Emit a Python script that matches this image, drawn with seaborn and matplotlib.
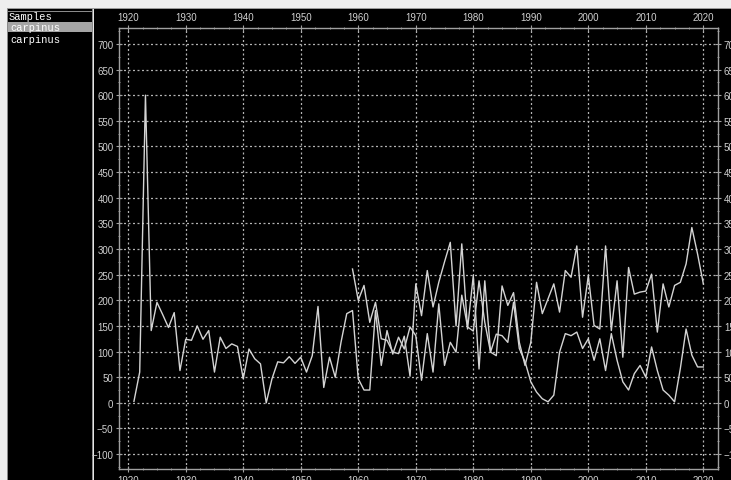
import numpy as np
import pandas as pd
import matplotlib
matplotlib.use("Agg")
import matplotlib.pyplot as plt
from matplotlib.patches import Rectangle
from matplotlib.ticker import MultipleLocator
import seaborn as sns

# ---- data ----
years_a = list(range(1921, 2021))
ring_a = [3, 60, 600, 141, 196, 172, 147, 176, 63, 124,
          122, 150, 124, 141, 60, 128, 106, 115, 110, 47,
          105, 86, 76, 0, 47, 80, 78, 90, 77, 89,
          60, 92, 188, 30, 89, 50, 118, 174, 180, 47,
          25, 25, 180, 73, 141, 95, 128, 105, 148, 131,
          44, 135, 60, 193, 73, 118, 99, 210, 148, 140,
          238, 157, 99, 134, 131, 118, 196, 106, 80, 41,
          21, 8, 2, 15, 99, 135, 131, 138, 106, 125,
          83, 125, 63, 135, 83, 41, 25, 57, 73, 50,
          109, 63, 25, 15, 2, 67, 144, 93, 70, 70]
years_b = list(range(1959, 2021))
ring_b = [261, 200, 229, 157, 196, 125, 122, 99, 96, 130,
          52, 232, 170, 258, 187, 235, 275, 313, 150, 310,
          144, 248, 66, 238, 99, 92, 228, 190, 215, 118,
          73, 118, 235, 174, 203, 232, 177, 258, 245, 306,
          167, 248, 151, 144, 306, 141, 238, 89, 264, 212,
          216, 218, 251, 138, 232, 187, 229, 235, 271, 342,
          290, 232]
samples = ["carpinus", "carpinus"]
x_ticks = list(range(1920, 2021, 10))
y_ticks = list(range(-100, 701, 50))

W, H = 731, 481
fig = plt.figure(figsize=(W / 100, H / 100), dpi=100)
fig.patch.set_facecolor("black")

def fx(px):
    return px / W

def fy(py):
    return 1 - py / H

def rect(x0, y0, w, h, color):
    fig.add_artist(Rectangle((fx(x0), fy(y0 + h)), w / W, h / H,
                             transform=fig.transFigure, color=color,
                             zorder=0, linewidth=0))

# window chrome
rect(0, 0, W, 9, "#eeeeee")
rect(0, 9, W, 1, "#9a9a9a")
rect(0, 0, 7, H, "#eeeeee")
rect(7, 10, 1, H, "#8a8a8a")
rect(91.5, 10, 1, H, "#8a8a8a")
rect(92.5, 10, 1.5, H, "#e6e6e6")
rect(8, 11.5, 84, 1, "#8a8a8a")
rect(8, 23, 84, 10, "#a5a5a5")
mono = dict(family="Liberation Mono", size=7.5, color="white", va="center")
fig.text(fx(9), fy(17.5), "Samples", **mono)
fig.text(fx(10), fy(28), samples[0], **mono)
fig.text(fx(10), fy(40), samples[1], **mono)

# plot area
ax = fig.add_axes([fx(119), fy(470), (718.3 - 119) / W, (470 - 29) / H])
ax.set_facecolor("black")

df_a = pd.DataFrame({"year": years_a, "ring": ring_a})
df_b = pd.DataFrame({"year": years_b, "ring": ring_b})
sns.lineplot(data=df_a, x="year", y="ring", ax=ax, color="#d4d4d4", linewidth=1.0)
sns.lineplot(data=df_b, x="year", y="ring", ax=ax, color="#d4d4d4", linewidth=1.0)

ax.set_xlim(1918.4, 2022.6)
ax.set_ylim(-129, 731)
ax.set_xticks(x_ticks)
ax.set_yticks(y_ticks)
ax.xaxis.set_minor_locator(MultipleLocator(2.5))
ax.yaxis.set_minor_locator(MultipleLocator(25))
ax.set_xlabel("")
ax.set_ylabel("")
ax.grid(True, which="major", color="#b4b4b4", linestyle=(0, (1.6, 2.0)), linewidth=0.9)
for s in ax.spines.values():
    s.set_color("#a0a0a0")
    s.set_linewidth(1.0)
ax.tick_params(which="both", top=True, bottom=True, left=True, right=True,
               labeltop=True, labelbottom=True, labelleft=True, labelright=True,
               colors="#a0a0a0", labelcolor="#d0d0d0", labelsize=7, direction="inout")
ax.tick_params(which="major", length=4, pad=2)
ax.tick_params(which="minor", length=2)
for lab in ax.get_xticklabels() + ax.get_yticklabels():
    lab.set_family("Liberation Sans")

fig.savefig("out.png", dpi=100, facecolor=fig.get_facecolor())
